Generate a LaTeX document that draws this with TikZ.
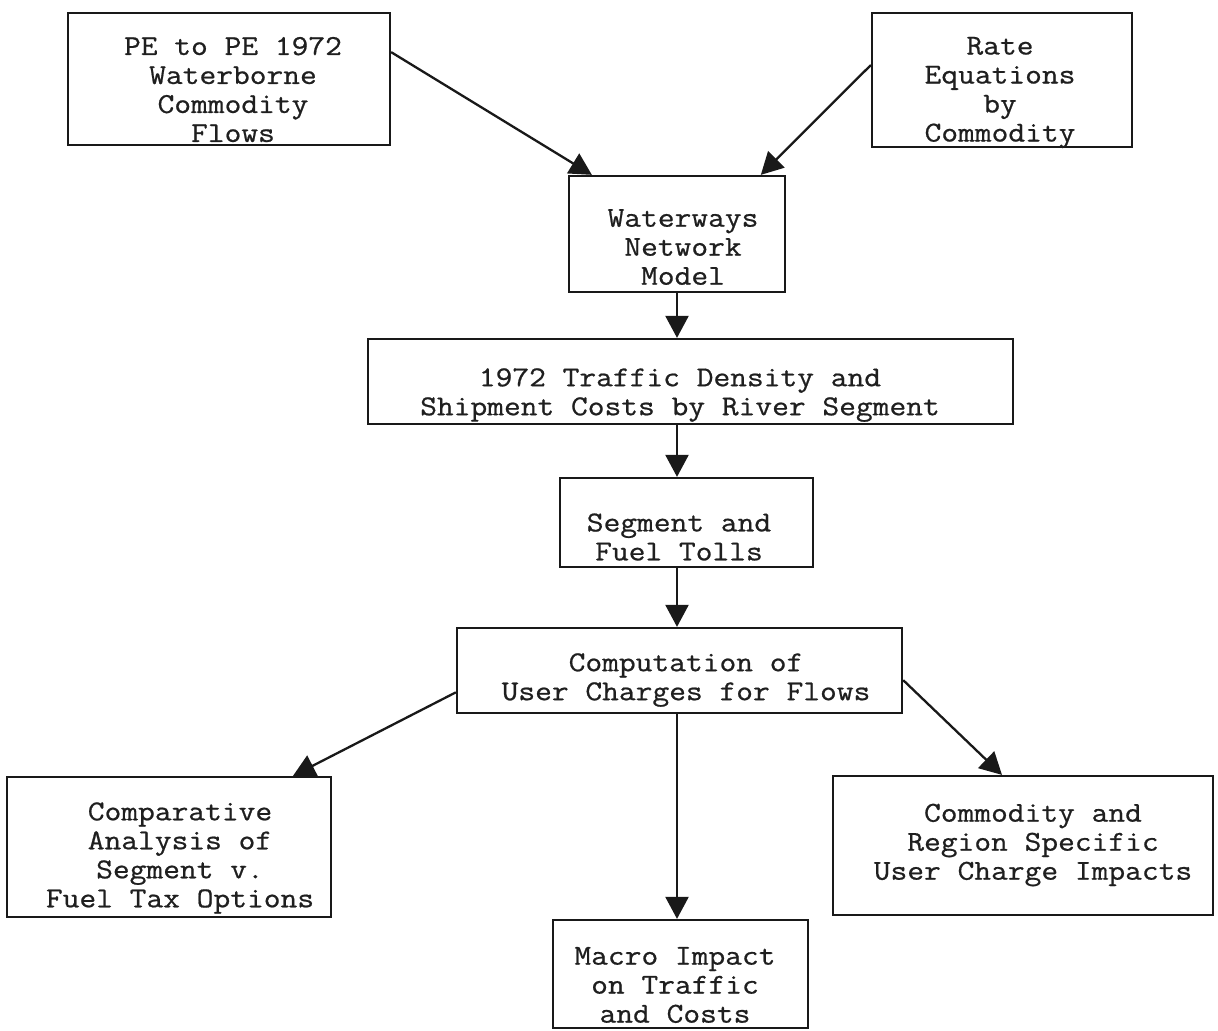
\documentclass[tikz,border=0pt]{standalone}
\usepackage{fontspec}
\newfontfamily\tw{Latin Modern Mono}[FakeBold=0.7,FakeStretch=1.13]
\usetikzlibrary{arrows.meta,calc}
\begin{document}
\begin{tikzpicture}[x=0.5pt,y=-0.5pt,
  box/.style={draw=black!90,line width=1.15pt,inner sep=0pt,rectangle},
  lbl/.style={font=\tw\fontsize{14.4pt}{14.5pt}\selectfont,align=center,inner sep=0pt,text=black!88},
  arr/.style={draw=black!90,line width=1.15pt,-{Triangle[length=11pt,width=11.5pt]}}]
\useasboundingbox (0,0) rectangle (1218,1030);
\fill[white] (0,0) rectangle (1218,1030);
\coordinate (spine) at (677,0);
% boxes
\node[box,minimum width=161pt,minimum height=66pt]   (pe) at (229,79) {};
\node[box,minimum width=130pt,minimum height=67pt]   (rate) at (1002,80) {};
\node[box,minimum width=108pt,minimum height=58pt]   (ww) at (677,234) {};
\node[box,minimum width=322.5pt,minimum height=42.5pt] (tr) at (690.5,381.5) {};
\node[box,minimum width=126.5pt,minimum height=44.5pt] (sg) at (686.5,522.5) {};
\node[box,minimum width=222.5pt,minimum height=42.5pt] (cp) at (679.5,670.5) {};
\node[box,minimum width=162pt,minimum height=70pt]   (ca) at (169,847) {};
\node[box,minimum width=190pt,minimum height=69.5pt] (cr) at (1023,845.5) {};
\node[box,minimum width=127.5pt,minimum height=54pt] (mi) at (680.5,974) {};
% texts
\node[lbl] (pe-t) at (233,89.5) {PE to PE 1972\\Waterborne\\Commodity\\Flows};
\node[lbl] (rate-t) at (1000,92.5) {Rate\\Equations\\by\\Commodity};
\node[lbl] (ww-t) at (683,247) {Waterways\\Network\\Model};
\node[lbl] (tr-t) at (680,395) {1972 Traffic Density and\\Shipment Costs by River Segment};
\node[lbl] (sg-t) at (679,537) {Segment and\\Fuel Tolls};
\node[lbl] (cp-t) at (686,680) {Computation of\\User Charges for Flows};
\node[lbl] (ca-t) at (180,858) {Comparative\\Analysis of\\Segment v.\\Fuel Tax Options};
\node[lbl] (cr-t) at (1033,845) {Commodity and\\Region Specific\\User Charge Impacts};
\node[lbl] (mi-t) at (675,985) {Macro Impact\\on Traffic\\and Costs};
% connectors
\draw[arr] ($(pe.north east)!0.30!(pe.south east)$) -- ($(ww.north west)!0.11!(ww.north east)$);
\draw[arr] ($(rate.north west)!0.39!(rate.south west)$) -- ($(ww.north west)!0.884!(ww.north east)$);
\draw[arr] (ww.south -| spine) -- (tr.north -| spine);
\draw[arr] (tr.south -| spine) -- (sg.north -| spine);
\draw[arr] (sg.south -| spine) -- (cp.north -| spine);
\draw[arr] (cp.south -| spine) -- (mi.north -| spine);
\draw[arr] ($(cp.north west)!0.75!(cp.south west)$) -- ($(ca.north west)!0.88!(ca.north east)$);
\draw[arr] ($(cp.north east)!0.61!(cp.south east)$) -- ($(cr.north west)!0.445!(cr.north east)$);
\end{tikzpicture}
\end{document}
